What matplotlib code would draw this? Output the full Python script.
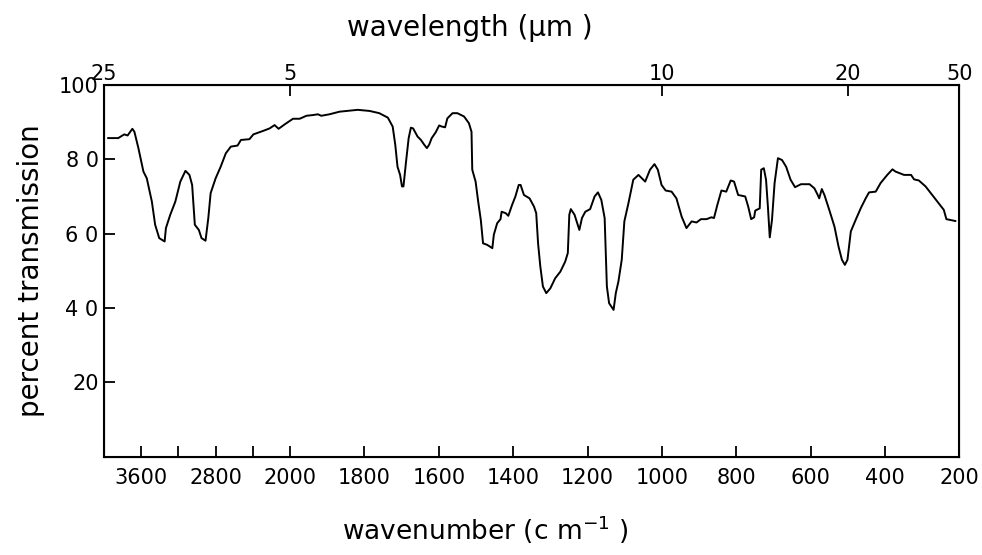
import numpy as np
import matplotlib
matplotlib.use("Agg")
import matplotlib.pyplot as plt

# IR spectrum (wavenumber in cm-1, percent transmission)
wavenumber = [
    3956, 3848, 3783, 3747, 3696, 3674, 3631, 3577, 3541, 3486, 3451, 3407,
    3349, 3335, 3288, 3234, 3180, 3125, 3082, 3053, 3024, 2981, 2952, 2909,
    2879, 2854, 2800, 2746, 2691, 2637, 2564, 2528, 2437, 2394, 2293, 2220,
    2166, 2123, 2057, 1992, 1974, 1956, 1938, 1925, 1916, 1894, 1867, 1818,
    1786, 1760, 1737, 1724, 1717, 1711, 1704, 1699, 1695, 1688, 1681, 1675,
    1669, 1657, 1648, 1639, 1632, 1626, 1619, 1608, 1599, 1592, 1583, 1577,
    1563, 1550, 1532, 1519, 1512, 1510, 1501, 1494, 1487, 1481, 1470, 1456,
    1452, 1443, 1434, 1431, 1420, 1413, 1403, 1394, 1385, 1380, 1371, 1356,
    1344, 1338, 1333, 1327, 1320, 1311, 1300, 1287, 1273, 1260, 1253, 1249,
    1245, 1235, 1222, 1215, 1206, 1193, 1181, 1172, 1163, 1154, 1148, 1142,
    1130, 1124, 1117, 1108, 1101, 1090, 1077, 1063, 1054, 1045, 1032, 1020,
    1011, 1001, 990, 974, 961, 947, 934, 920, 907, 895, 880, 867, 860, 851,
    840, 827, 815, 806, 795, 776, 768, 760, 752, 749, 737, 733, 726, 720,
    715, 710, 704, 697, 688, 677, 666, 654, 642, 626, 603, 590, 581, 577,
    570, 563, 550, 536, 525, 516, 508, 501, 492, 479, 465, 452, 443, 425,
    412, 394, 380, 372, 349, 330, 322, 309, 291, 273, 256, 242, 235, 211,
]
transmission = [
    85.7, 85.7, 86.7, 86.4, 88.2, 87.4, 83.0, 76.7, 74.9, 68.6, 62.4, 58.8,
    57.9, 61.5, 65.1, 68.6, 74.0, 76.9, 75.8, 73.1, 62.4, 61.0, 58.8, 58.1,
    64.2, 70.9, 74.9, 78.0, 81.6, 83.4, 83.7, 85.2, 85.4, 86.7, 87.6, 88.3,
    89.2, 88.2, 89.4, 90.9, 90.9, 91.7, 91.9, 92.1, 91.7, 92.1, 92.8, 93.3,
    93.0, 92.4, 91.2, 88.8, 83.9, 78.0, 75.8, 72.7, 72.7, 79.4, 85.7, 88.5,
    88.3, 86.1, 85.2, 83.9, 83.0, 83.9, 85.7, 87.3, 89.1, 88.8, 88.6, 91.0,
    92.4, 92.4, 91.5, 89.7, 87.4, 77.2, 74.0, 68.6, 63.7, 57.4, 57.0, 56.1,
    59.7, 62.8, 63.9, 65.9, 65.5, 64.8, 67.7, 70.0, 73.1, 73.1, 70.4, 69.5,
    67.3, 65.5, 57.4, 51.2, 45.8, 44.0, 45.3, 48.0, 49.8, 52.5, 54.8, 65.1,
    66.6, 65.1, 61.0, 64.2, 65.9, 66.6, 70.0, 71.1, 69.1, 64.2, 45.8, 41.3,
    39.5, 44.0, 47.1, 53.0, 63.3, 68.2, 74.5, 75.8, 74.9, 74.0, 77.2, 78.7,
    77.2, 73.1, 71.6, 71.3, 69.5, 64.6, 61.5, 63.3, 63.0, 63.9, 63.9, 64.4, 64.2, 67.7,
    71.6, 71.3, 74.3, 74.0, 70.4, 70.0, 67.3, 63.9, 64.4, 66.2, 66.8, 77.2, 77.6, 74.5,
    67.3, 59.0, 63.7, 73.6, 80.3, 79.8, 78.0, 74.5, 72.5, 73.3, 73.3, 72.2, 70.4, 69.5,
    72.0, 70.4, 66.4, 61.9, 56.5, 53.0, 51.6, 53.0, 60.6, 63.7, 66.9, 69.5, 71.1, 71.3,
    73.6, 75.8, 77.3, 76.7, 75.8, 75.8, 74.6, 74.3, 72.7, 70.4, 68.2, 66.4, 63.9, 63.4,
]

bottom_ticks = [3600, 3200, 2800, 2400, 2000, 1800, 1600, 1400, 1200, 1000, 800, 600, 400, 200]
bottom_labels = ['3600', '', '2800', '', '2000', '1800', '1600', '1400', '1200',
                 '1000', '800', '600', '400', '200']
top_ticks = [4000, 2000, 1000, 500, 200]
top_labels = ['25', '5', '10', '20', '50']
y_ticks = [20, 40, 60, 80, 100]
y_labels = ['20', '4 0', '6 0', '8 0', '100']


# the chart compresses 4000-2000 cm-1 to a quarter of the scale
def forward(w):
    w = np.asarray(w, dtype=float)
    return np.where(w > 2000, 2000 + (w - 2000) / 4, w)


def inverse(p):
    p = np.asarray(p, dtype=float)
    return np.where(p > 2000, 2000 + (p - 2000) * 4, p)


fig = plt.figure(figsize=(9.82, 5.55), dpi=100)
ax = fig.add_axes([0.106, 0.177, 0.871, 0.670])

ax.plot(wavenumber, transmission, color='black', lw=1.4)

ax.set_xscale('function', functions=(forward, inverse))
ax.set_xlim(4000, 200)
ax.set_ylim(0, 100)

ax.set_xticks(bottom_ticks)
ax.set_xticklabels(bottom_labels)
ax.set_yticks(y_ticks)
ax.set_yticklabels(y_labels)
ax.minorticks_off()
ax.tick_params(direction='in', length=8, width=1.3, labelsize=15, pad=8)
ax.tick_params(axis='y', pad=4)

for s in ax.spines.values():
    s.set_linewidth(1.5)

ax.set_ylabel('percent transmission', fontsize=20, labelpad=10)

top = ax.twiny()
top.set_xscale('function', functions=(forward, inverse))
top.set_xlim(4000, 200)
top.set_xticks(top_ticks)
top.set_xticklabels(top_labels)
top.minorticks_off()
top.tick_params(direction='in', length=8, width=1.3, labelsize=15, pad=1)

# axis titles sit off-centre in the original scan
fig.text(0.478, 0.95, 'wavelength (µm )', fontsize=20, ha='center', va='center')
fig.text(0.494, 0.045, r'wavenumber (c m$^{-1}$ )', fontsize=19, ha='center', va='center')

fig.savefig('out.png', dpi=100)
